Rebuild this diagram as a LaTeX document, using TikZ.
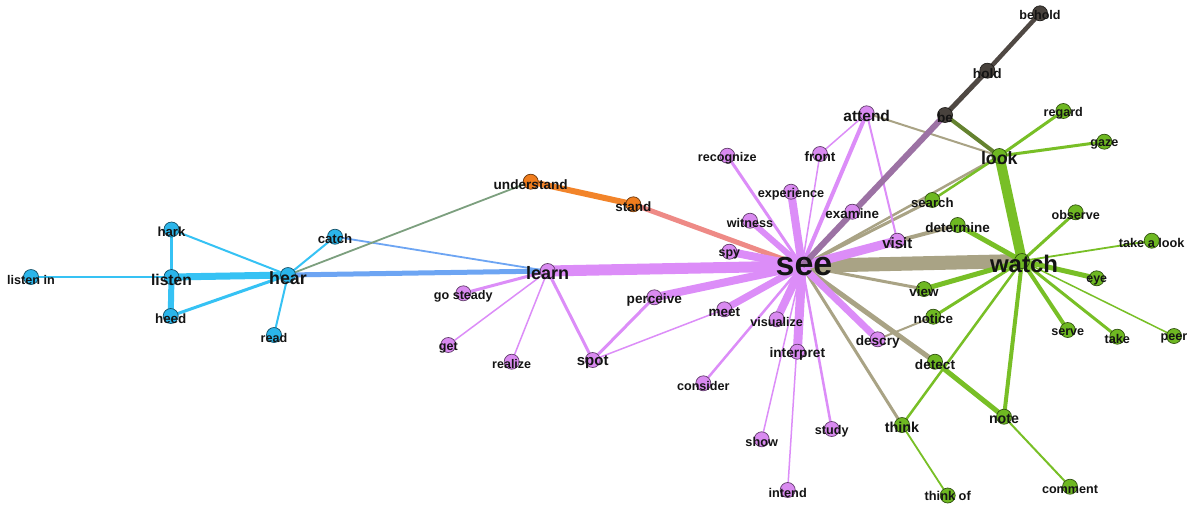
\documentclass[tikz,border=0pt]{standalone}
\usepackage{fontspec}
\setmainfont{Liberation Sans}
\definecolor{nBlue}{HTML}{2BB5EA}
\definecolor{eBlue}{HTML}{36C2F4}
\definecolor{nPurple}{HTML}{D98AF0}
\definecolor{ePurple}{HTML}{DC8DF8}
\definecolor{nOrange}{HTML}{F07D1D}
\definecolor{eOrange}{HTML}{F2842A}
\definecolor{eSalmon}{HTML}{EE8A86}
\definecolor{nGreen}{HTML}{6EB822}
\definecolor{eGreen}{HTML}{78BF26}
\definecolor{nDark}{HTML}{48423D}
\definecolor{eDark}{HTML}{4F4843}
\definecolor{eTan}{HTML}{A9A385}
\definecolor{eMauve}{HTML}{9C72A4}
\definecolor{eOlive}{HTML}{64822F}
\definecolor{eCorn}{HTML}{6DA5F3}
\definecolor{eSage}{HTML}{7C9F7E}
\tikzset{
  dot/.style={circle, minimum size=15pt, inner sep=0pt, fill=#1, draw=#1!45!black, line width=0.7pt},
  lbl/.style={font=\bfseries\fontsize{#1}{#1}\selectfont, inner sep=0pt, text=black!92},
  link/.style={line cap=butt}
}
\begin{document}
\begin{tikzpicture}[x=1pt,y=-1pt]
\useasboundingbox[fill=white] (0,0) rectangle (1190,504);

% vertex positions
\foreach \n/\x/\y in {
  listenin/31/277, listen/171.5/277, hark/171.5/229.5, heed/170.7/316,
  hear/288/275, read/274/335, catch/335/236.7,
  learn/547.7/271, understand/530.7/181.7, stand/633.3/204.3,
  gosteady/463.3/293.3, get/448.3/345, realize/511.7/361.7, spot/592.7/360,
  perceive/654.3/297.3, meet/724.3/309.3, see/802/266,
  spy/729.3/251.7, witness/750/220.7, experience/791/191.7,
  recognize/727.3/155.7, front/820/154, attend/866.7/113.3,
  examine/852.3/211.7, visit/897.3/240.7,
  visualize/776.7/319.3, interpret/797.3/351.7, consider/703.3/383.3,
  show/761.7/439.3, study/831.7/429, intend/787.7/490, descry/877.7/339.3,
  be/945/115, hold/987.3/70.7, behold/1040/13.3,
  look/999.3/156, regard/1063.3/111, gaze/1104.3/141.7,
  search/932.3/200, determine/957.7/225, watch/1022/261,
  observe/1075.7/212.3, takealook/1151.7/240.7, eye/1096.7/278.3,
  view/924/289, notice/933.3/316.7, detect/935/361.7,
  serve/1067.7/330, take/1117.3/336.7, peer/1174/336,
  think/902/425, note/1004/416.7, thinkof/947.7/495.5, comment/1070/486.7}
  \coordinate (\n) at (\x,\y);

% connectors
\foreach \a/\b/\c/\w in {
  see/watch/eTan/14, see/look/eTan/2.5, see/search/eTan/3, see/determine/eTan/4,
  attend/look/eTan/2, see/view/eTan/3, see/detect/eTan/5, see/think/eTan/3,
  descry/notice/eTan/2,
  listenin/listen/eBlue/1.8, hark/listen/eBlue/2.5, hark/hear/eBlue/2,
  listen/hear/eBlue/7, listen/heed/eBlue/6, heed/hear/eBlue/3,
  hear/catch/eBlue/2, hear/read/eBlue/2,
  hear/learn/eCorn/5, catch/learn/eCorn/1.8, hear/understand/eSage/1.8,
  understand/stand/eOrange/6, stand/see/eSalmon/5,
  learn/see/ePurple/11, learn/gosteady/ePurple/3, learn/get/ePurple/1.5,
  learn/realize/ePurple/1.5, learn/spot/ePurple/3, spot/perceive/ePurple/3,
  spot/meet/ePurple/1.5, perceive/see/ePurple/8, meet/see/ePurple/7,
  spy/see/ePurple/8, witness/see/ePurple/6, experience/see/ePurple/8,
  recognize/see/ePurple/3, front/see/ePurple/1.5, front/attend/ePurple/1.5,
  attend/see/ePurple/4, attend/visit/ePurple/2, examine/see/ePurple/2.5,
  visit/see/ePurple/9, visualize/see/ePurple/8, interpret/see/ePurple/9,
  consider/see/ePurple/2.5, show/see/ePurple/1.5, study/see/ePurple/2.5,
  intend/see/ePurple/1.5, descry/see/ePurple/7,
  see/be/eMauve/6, be/hold/eDark/5, hold/behold/eDark/4.5, be/look/eOlive/4,
  look/regard/eGreen/3, look/gaze/eGreen/3, look/search/eGreen/2.5,
  look/watch/eGreen/10, watch/determine/eGreen/5, watch/observe/eGreen/3,
  watch/takealook/eGreen/1.8, watch/eye/eGreen/5, watch/view/eGreen/5,
  watch/notice/eGreen/3, watch/think/eGreen/2.5, watch/note/eGreen/4,
  watch/serve/eGreen/4, watch/take/eGreen/3, watch/peer/eGreen/1.5,
  detect/note/eGreen/5, note/comment/eGreen/2, think/thinkof/eGreen/1.8}
  \draw[link, draw=\c, line width=\w pt] (\a) -- (\b);

% vertices and their words
\foreach \n/\c/\s/\t/\d in {
  listenin/nBlue/12.6/listen in/2.5, listen/nBlue/15.6/listen/2.5, hark/nBlue/13.2/hark/2.5,
  heed/nBlue/13.4/heed/2.5, hear/nBlue/17.8/hear/3.5, read/nBlue/12.6/read/2.5,
  catch/nBlue/13.2/catch/2.5,
  learn/nPurple/18/learn/2.5, understand/nOrange/13.6/understand/2.5,
  stand/nOrange/13.5/stand/2.5, gosteady/nPurple/12.6/go steady/2.5,
  get/nPurple/12.5/get/2.5, realize/nPurple/12.5/realize/2.5, spot/nPurple/15/spot/2.5,
  perceive/nPurple/13.6/perceive/2.5, meet/nPurple/13.5/meet/2.5,
  spy/nPurple/12.4/spy/2.5, witness/nPurple/12.6/witness/2.5,
  experience/nPurple/12.7/experience/2.5, recognize/nPurple/12.6/recognize/2.5,
  front/nPurple/13.6/front/2.5, attend/nPurple/15.5/attend/2.5,
  examine/nPurple/13.4/examine/2.5, visit/nPurple/15/visit/2.5,
  visualize/nPurple/12.6/visualize/2.5, interpret/nPurple/13.7/interpret/2.5,
  consider/nPurple/12.6/consider/2.5, show/nPurple/12.7/show/2.5,
  study/nPurple/12.6/study/2.5, intend/nPurple/12.7/intend/2.5,
  descry/nPurple/13.6/descry/2.5,
  be/nDark/13.6/be/2.5, hold/nDark/13.6/hold/2.5, behold/nDark/12.6/behold/1.5,
  look/nGreen/17.8/look/2, regard/nGreen/12.6/regard/2.5, gaze/nGreen/12.6/gaze/2.5,
  search/nGreen/13.2/search/2.5, determine/nGreen/13.5/determine/2.5,
  observe/nGreen/12.6/observe/2.5, takealook/nGreen/12.7/take a look/2.5,
  eye/nGreen/12.4/eye/2.5, view/nGreen/13.4/view/2.5, notice/nGreen/13.4/notice/2.5,
  detect/nGreen/13.6/detect/2.5, serve/nGreen/12.6/serve/2.5, take/nGreen/12.7/take/2.5,
  peer/nGreen/12.6/peer/2.5, think/nGreen/14.4/think/2.5, note/nGreen/14.2/note/2.5,
  thinkof/nGreen/12.8/think of/0, comment/nGreen/12.6/comment/2.5}
{
  \node[dot=\c] (\n-c) at (\n) {};
  \node[lbl=\s, yshift=-\d pt] (\n-t) at (\n) {\t};
}

% the two hubs
\node[dot=nGreen] (watch-c) at (watch) {};
\node[lbl=24, xshift=2pt, yshift=-2.5pt] (watch-t) at (watch) {watch};
\node[lbl=34, xshift=2pt, yshift=-1pt] (see-t) at (see) {see};
\end{tikzpicture}
\end{document}
